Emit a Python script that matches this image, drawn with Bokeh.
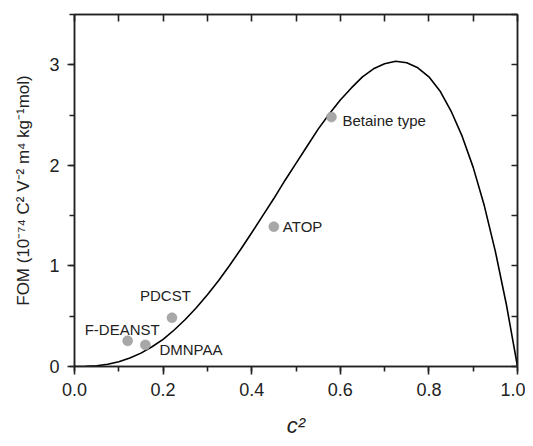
from bokeh.plotting import figure
from bokeh.models import (Range1d, LinearAxis, SingleIntervalTicker, PrintfTickFormatter,
                          CustomJSTickFormatter, ColumnDataSource)
from bokeh.embed import file_html
from bokeh.resources import INLINE
from bokeh.core.properties import value

# ---- data ----
curve_x = [0.0, 0.025, 0.05, 0.075, 0.1, 0.125, 0.15, 0.175, 0.2, 0.225, 0.25, 0.275,
           0.3, 0.325, 0.35, 0.375, 0.4, 0.425, 0.45, 0.475, 0.5, 0.525, 0.55, 0.575,
           0.6, 0.625, 0.65, 0.675, 0.7, 0.725, 0.75, 0.775, 0.8, 0.825, 0.85, 0.875,
           0.9, 0.925, 0.95, 0.975, 1.0]
curve_y = [0.0, 0.001, 0.008, 0.022, 0.047, 0.084, 0.133, 0.196, 0.27, 0.363, 0.467, 0.584,
           0.713, 0.853, 1.005, 1.164, 1.33, 1.50, 1.67, 1.85, 2.02, 2.19, 2.36, 2.51,
           2.65, 2.77, 2.88, 2.96, 3.01, 3.035, 3.02, 2.97, 2.88, 2.74, 2.54, 2.29,
           1.98, 1.60, 1.145, 0.614, 0.0]

names = ["F-DEANST", "DMNPAA", "PDCST", "ATOP", "Betaine type"]
pt_x = [0.12, 0.16, 0.22, 0.45, 0.58]
pt_y = [0.255, 0.215, 0.485, 1.39, 2.48]

FONT = "Liberation Sans"
INK = "#222222"
TICK = "#222222"
TW = 1.6

p = figure(width=525, height=440, output_backend="svg", toolbar_location=None,
           x_range=Range1d(0, 1), y_range=Range1d(0, 3.5),
           min_border_left=74, min_border_right=8, min_border_top=14, min_border_bottom=66)
p.xgrid.visible = False
p.ygrid.visible = False
p.outline_line_color = INK
p.outline_line_width = 1.5
p.background_fill_color = "white"
p.border_fill_color = "white"

# bottom axis
xa = p.xaxis[0]
xa.ticker = SingleIntervalTicker(interval=0.2, num_minor_ticks=2)
xa.formatter = PrintfTickFormatter(format="%.1f")
xa.major_tick_in = 0
xa.major_tick_out = 8
xa.minor_tick_in = 0
xa.minor_tick_out = 5
xa.axis_line_color = INK
xa.axis_line_width = 1.5
xa.major_tick_line_color = TICK
xa.major_tick_line_width = TW
xa.minor_tick_line_color = TICK
xa.minor_tick_line_width = TW
xa.major_label_text_font = FONT
xa.major_label_text_font_size = "18px"
xa.major_label_text_color = INK
xa.major_label_standoff = 8
xa.axis_label = "c²"
xa.axis_label_text_font = FONT
xa.axis_label_text_font_style = "italic"
xa.axis_label_text_font_size = "22px"
xa.axis_label_text_color = INK
xa.axis_label_standoff = 14

# left axis
ya = p.yaxis[0]
ya.ticker = SingleIntervalTicker(interval=1, num_minor_ticks=2)
ya.major_tick_in = 0
ya.major_tick_out = 7
ya.minor_tick_in = 0
ya.minor_tick_out = 5
ya.axis_line_color = INK
ya.axis_line_width = 1.5
ya.major_tick_line_color = TICK
ya.major_tick_line_width = TW
ya.minor_tick_line_color = TICK
ya.minor_tick_line_width = TW
ya.major_label_text_font = FONT
ya.major_label_text_font_size = "18px"
ya.major_label_text_color = INK
ya.major_label_standoff = 8
ya.axis_label = "FOM (10⁻⁷⁴ C² V⁻² m⁴ kg⁻¹mol)"
ya.axis_label_text_font = FONT
ya.axis_label_text_font_style = "normal"
ya.axis_label_text_font_size = "17px"
ya.axis_label_text_color = INK
ya.axis_label_standoff = 13

blank = CustomJSTickFormatter(code="return ''")

top = LinearAxis(ticker=SingleIntervalTicker(interval=0.1, num_minor_ticks=0),
                 formatter=blank, major_tick_in=7, major_tick_out=0,
                 minor_tick_in=0, minor_tick_out=0, major_label_standoff=0,
                 major_label_text_font_size="1px", axis_line_color=INK,
                 axis_line_width=1.5, major_tick_line_color=TICK, major_tick_line_width=TW)
right = LinearAxis(ticker=SingleIntervalTicker(interval=0.5, num_minor_ticks=0),
                   formatter=blank, major_tick_in=6, major_tick_out=0,
                   minor_tick_in=0, minor_tick_out=0, major_label_standoff=0,
                   major_label_text_font_size="1px", axis_line_color=INK,
                   axis_line_width=1.5, major_tick_line_color=TICK, major_tick_line_width=TW)
p.add_layout(top, "above")
p.add_layout(right, "right")

# curve
p.line(curve_x, curve_y, line_color="black", line_width=1.6)

# points
src = ColumnDataSource(dict(x=pt_x, y=pt_y, name=names,
                            xo=[-43, 14, -32, 9, 11], yo=[-11, 5, -22, 0, 3]))
p.scatter("x", "y", source=src, size=10, fill_color="#a8a8a8", line_color="#9a9a9a",
          line_width=0.5)
p.text("x", "y", text="name", source=src, x_offset="xo", y_offset="yo",
       text_font=value(FONT), text_font_size="15px", text_color=INK,
       text_align="left", text_baseline="middle")

open("out.html", "w").write(file_html(p, INLINE))
